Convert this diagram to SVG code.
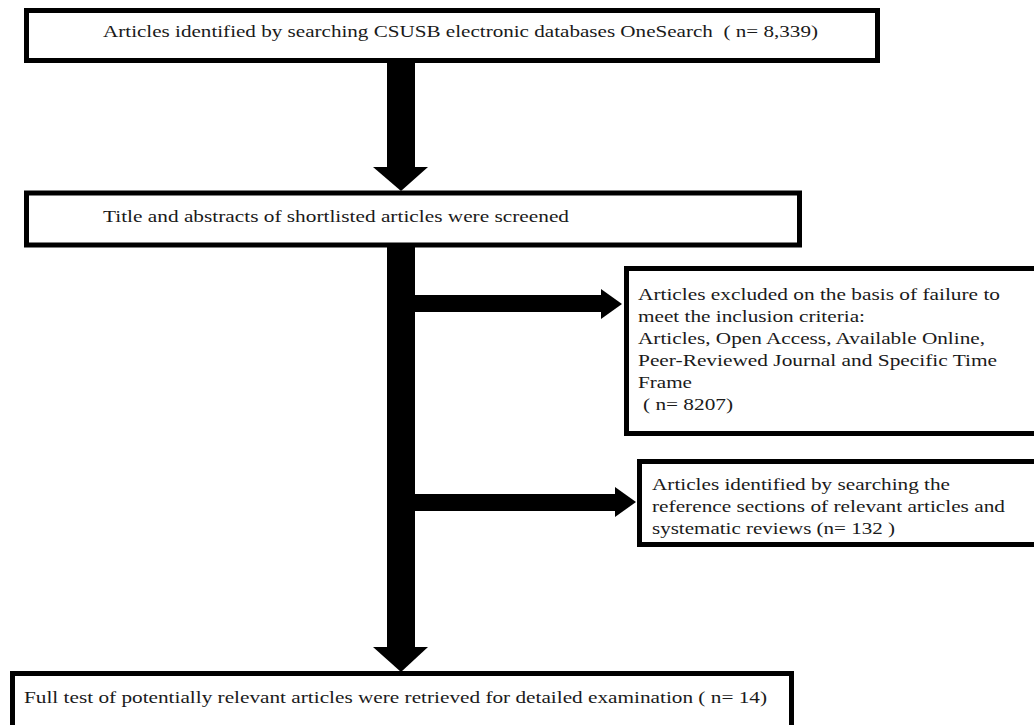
<svg xmlns="http://www.w3.org/2000/svg" width="1034" height="725" viewBox="0 0 1034 725">
<style>
.box{fill:#fff;stroke:#000;stroke-width:5}
.t{font-family:"Liberation Serif","Times New Roman",serif;font-size:17px;fill:#1a1a1a;white-space:pre}
.s{font-size:17.5px}
.c{fill:#000;stroke:none}
</style>
<rect width="1034" height="725" fill="#fff"/>
<g id="connectors">
  <rect class="c" x="387" y="60" width="28" height="108"/>
  <polygon class="c" points="373,167 428,167 401,191"/>
  <rect class="c" x="387" y="245" width="28" height="403"/>
  <polygon class="c" points="373,647 428,647 401,672"/>
  <rect class="c" x="413" y="295" width="189" height="17"/>
  <polygon class="c" points="601,289 601,319 622,304"/>
  <rect class="c" x="413" y="494" width="203" height="17"/>
  <polygon class="c" points="615,487 615,517 636,502"/>
</g>
<g id="n1">
  <rect class="box" x="26.5" y="10.5" width="851" height="50"/>
  <text class="t" x="103" y="37" textLength="715" lengthAdjust="spacingAndGlyphs">Articles identified by searching CSUSB electronic databases OneSearch  ( n= 8,339)</text>
</g>
<g id="n2">
  <rect class="box" x="26.5" y="193" width="773" height="52"/>
  <text class="t" x="103" y="222" textLength="466" lengthAdjust="spacingAndGlyphs">Title and abstracts of shortlisted articles were screened</text>
</g>
<g id="n3">
  <rect class="box" x="626.5" y="268.5" width="420" height="165"/>
  <text class="t s" x="638" y="300" textLength="362" lengthAdjust="spacingAndGlyphs">Articles excluded on the basis of failure to</text>
  <text class="t s" x="638" y="322" textLength="227" lengthAdjust="spacingAndGlyphs">meet the inclusion criteria:</text>
  <text class="t s" x="638" y="344" textLength="347" lengthAdjust="spacingAndGlyphs">Articles, Open Access, Available Online,</text>
  <text class="t s" x="638" y="366" textLength="359" lengthAdjust="spacingAndGlyphs">Peer-Reviewed Journal and Specific Time</text>
  <text class="t s" x="638" y="388" textLength="54" lengthAdjust="spacingAndGlyphs">Frame</text>
  <text class="t s" x="643" y="410" textLength="90" lengthAdjust="spacingAndGlyphs">( n= 8207)</text>
</g>
<g id="n4">
  <rect class="box" x="639.5" y="461.5" width="410" height="83"/>
  <text class="t s" x="652" y="490" textLength="298" lengthAdjust="spacingAndGlyphs">Articles identified by searching the</text>
  <text class="t s" x="652" y="512" textLength="353" lengthAdjust="spacingAndGlyphs">reference sections of relevant articles and</text>
  <text class="t s" x="652" y="534" textLength="243" lengthAdjust="spacingAndGlyphs">systematic reviews (n= 132 )</text>
</g>
<g id="n5">
  <rect class="box" x="12.5" y="673.5" width="779" height="60"/>
  <text class="t" x="24" y="703" textLength="743" lengthAdjust="spacingAndGlyphs">Full test of potentially relevant articles were retrieved for detailed examination ( n= 14)</text>
</g>
</svg>
